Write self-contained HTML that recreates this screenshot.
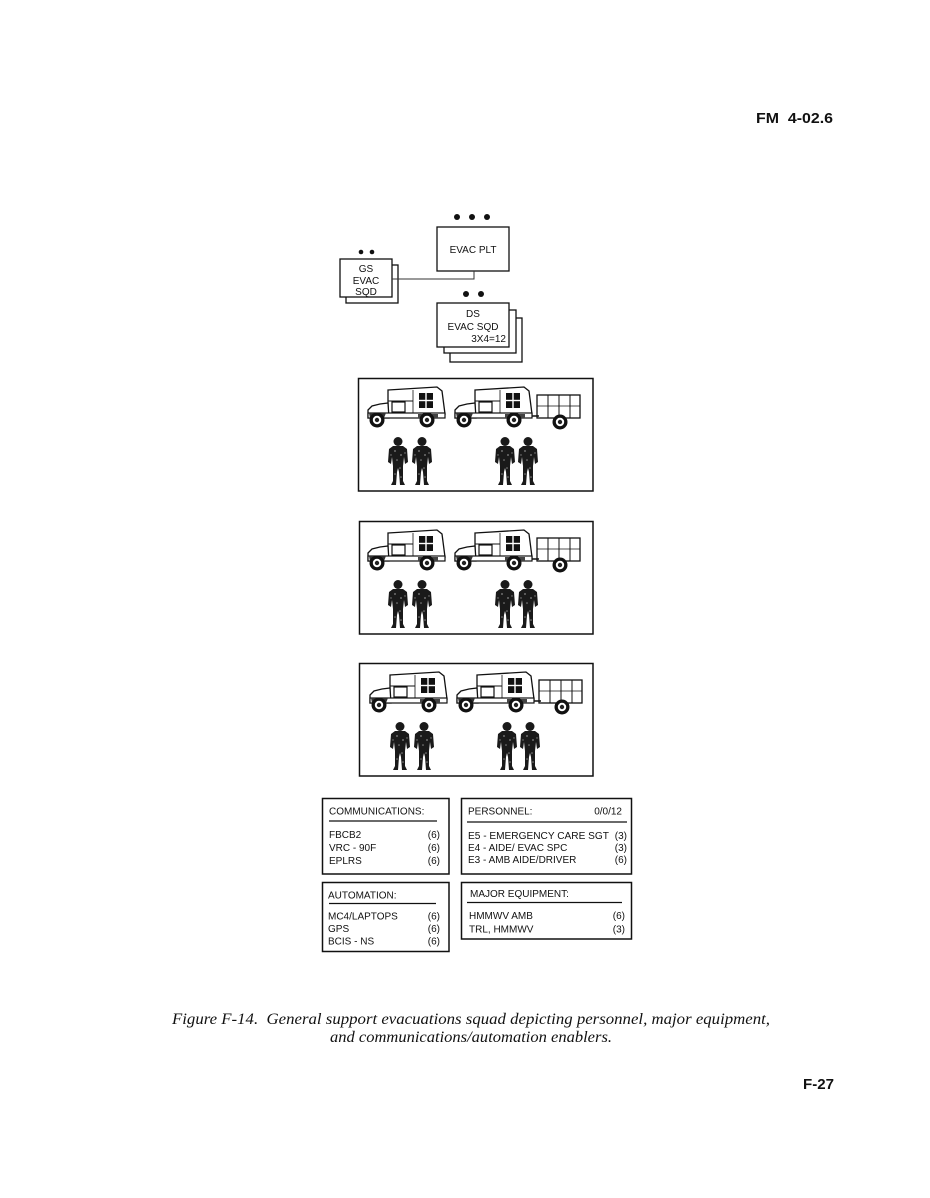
<!DOCTYPE html>
<html>
<head>
<meta charset="utf-8">
<style>
html,body{margin:0;padding:0;background:#fff;}
svg{display:block;}
text{font-family:"Liberation Sans",Arial,sans-serif;fill:#111;}
.cap{font-family:"Liberation Serif","Times New Roman",serif;font-style:italic;}
</style>
</head>
<body>
<svg width="930" height="1198" viewBox="0 0 930 1198" xmlns="http://www.w3.org/2000/svg">
<rect width="930" height="1198" fill="#fff"/>

<!-- Header -->
<text x="756" y="123" font-size="15" font-weight="bold" textLength="77" lengthAdjust="spacingAndGlyphs" xml:space="preserve">FM  4-02.6</text>

<!-- Org chart -->
<g fill="#111">
  <circle cx="457" cy="217" r="3"/>
  <circle cx="472" cy="217" r="3"/>
  <circle cx="487" cy="217" r="3"/>
  <circle cx="361" cy="252" r="2.3"/>
  <circle cx="372" cy="252" r="2.3"/>
  <circle cx="466" cy="294" r="3"/>
  <circle cx="481" cy="294" r="3"/>
</g>
<g fill="#fff" stroke="#111" stroke-width="1.3">
  <rect x="437" y="227" width="72" height="44"/>
  <rect x="346" y="265" width="52" height="38"/>
  <rect x="340" y="259" width="52" height="38"/>
  <rect x="450" y="318" width="72" height="44"/>
  <rect x="444" y="310" width="72" height="43"/>
  <rect x="437" y="303" width="72" height="44"/>
</g>
<polyline points="392,279 474,279 474,271" fill="none" stroke="#333" stroke-width="1"/>
<g font-size="10" text-anchor="middle">
  <text x="473" y="253">EVAC PLT</text>
  <text x="366" y="272">GS</text>
  <text x="366" y="284">EVAC</text>
  <text x="366" y="295">SQD</text>
  <text x="473" y="317">DS</text>
  <text x="473" y="330">EVAC SQD</text>
  <text x="506" y="342" text-anchor="end">3X4=12</text>
</g>

<!-- Definitions of panel content -->
<defs>
  <g id="amb">
    <path d="M20,5 L69,2 L74,6 L77,29 L20,29 Z" fill="#fff" stroke="#111" stroke-width="1.3"/>
    <line x1="20" y1="16" x2="45" y2="16" stroke="#111" stroke-width="1"/>
    <rect x="24" y="17" width="13" height="10" fill="#fff" stroke="#111" stroke-width="1.2"/>
    <line x1="45" y1="5" x2="45" y2="29" stroke="#111" stroke-width="0.8"/>
    <rect x="51" y="8" width="14" height="15" fill="#111"/>
    <line x1="58" y1="8" x2="58" y2="23" stroke="#fff" stroke-width="1.4"/>
    <line x1="51" y1="15.5" x2="65" y2="15.5" stroke="#fff" stroke-width="1.4"/>
    <path d="M0,25 L4,21 L12,19 L20,18 L21,33 L0,33 Z" fill="#fff" stroke="#111" stroke-width="1.3"/>
    <rect x="0" y="28" width="77" height="5" fill="#fff" stroke="#111" stroke-width="1.2"/>
    <path d="M1,28 L18,28 L16,33 L2,33 Z" fill="#333"/>
    <path d="M50,29 L70,29 L70,33 L50,33 Z" fill="#444"/>
    <circle cx="9" cy="35" r="7.5" fill="#111"/>
    <circle cx="9" cy="35" r="4.2" fill="#fff"/>
    <circle cx="9" cy="35" r="2.2" fill="#222"/>
    <circle cx="59" cy="35" r="7.5" fill="#111"/>
    <circle cx="59" cy="35" r="4.2" fill="#fff"/>
    <circle cx="59" cy="35" r="2.2" fill="#222"/>
  </g>
  <g id="trailer">
    <rect x="82" y="10" width="43" height="23" fill="#fff" stroke="#111" stroke-width="1.3"/>
    <line x1="93" y1="10" x2="93" y2="33" stroke="#111" stroke-width="1"/>
    <line x1="104" y1="10" x2="104" y2="33" stroke="#111" stroke-width="1"/>
    <line x1="115" y1="10" x2="115" y2="33" stroke="#111" stroke-width="1"/>
    <line x1="82" y1="21" x2="125" y2="21" stroke="#111" stroke-width="0.8"/>
    <line x1="77" y1="31" x2="84" y2="31" stroke="#111" stroke-width="1.5"/>
    <circle cx="105" cy="37" r="7.5" fill="#111"/>
    <circle cx="105" cy="37" r="4.2" fill="#fff"/>
    <circle cx="105" cy="37" r="2.2" fill="#222"/>
  </g>
  <g id="sol">
    <ellipse cx="10" cy="4.5" rx="4.5" ry="4.5" fill="#1a1a1a"/>
    <path d="M5,9 L15,9 L19,12 L20,25 L17,27 L16,20 L15,29 L15,44 L17,48 L12,48 L11,35 L10,31 L9,35 L8,48 L3,48 L5,44 L5,29 L4,20 L3,27 L0,25 L1,12 Z" fill="#1a1a1a"/>
    <g fill="#888">
      <circle cx="7" cy="14" r="0.9"/>
      <circle cx="13" cy="18" r="0.9"/>
      <circle cx="9" cy="23" r="0.8"/>
      <circle cx="12" cy="31" r="0.8"/>
      <circle cx="7" cy="37" r="0.8"/>
      <circle cx="13" cy="40" r="0.8"/>
      <circle cx="17" cy="16" r="0.7"/>
      <circle cx="3" cy="18" r="0.7"/>
    </g>
  </g>
  <g id="panel">
    <use href="#amb" transform="translate(368,385)"/>
    <use href="#amb" transform="translate(455,385)"/>
    <use href="#trailer" transform="translate(455,385)"/>
    <use href="#sol" transform="translate(388,437)"/>
    <use href="#sol" transform="translate(412,437)"/>
    <use href="#sol" transform="translate(495,437)"/>
    <use href="#sol" transform="translate(518,437)"/>
  </g>
</defs>

<!-- Panels -->
<g fill="none" stroke="#111" stroke-width="1.5">
  <rect x="358.5" y="378.5" width="234.5" height="112.5"/>
  <rect x="359.5" y="521.5" width="233.5" height="112.5"/>
  <rect x="359.5" y="663.5" width="233.5" height="112.5"/>
</g>
<use href="#panel"/>
<use href="#panel" transform="translate(0,143)"/>
<use href="#panel" transform="translate(2,285)"/>

<!-- Info boxes -->
<g fill="#fff" stroke="#111" stroke-width="1.5">
  <rect x="322.5" y="798.5" width="126.5" height="75.5"/>
  <rect x="461.5" y="798.5" width="170" height="75.5"/>
  <rect x="322.5" y="882.5" width="126.5" height="69"/>
  <rect x="461.5" y="882.5" width="170" height="56.5"/>
</g>
<g stroke="#111" stroke-width="1.3">
  <line x1="329" y1="821" x2="437" y2="821"/>
  <line x1="467" y1="822" x2="627" y2="822"/>
  <line x1="329" y1="903.5" x2="436" y2="903.5"/>
  <line x1="467" y1="902.5" x2="622" y2="902.5"/>
</g>
<g font-size="10">
  <text x="329" y="814.5">COMMUNICATIONS:</text>
  <text x="329" y="838">FBCB2</text>
  <text x="329" y="851">VRC - 90F</text>
  <text x="329" y="864">EPLRS</text>
  <text x="440" y="838" text-anchor="end">(6)</text>
  <text x="440" y="851" text-anchor="end">(6)</text>
  <text x="440" y="864" text-anchor="end">(6)</text>

  <text x="468" y="814.5">PERSONNEL:</text>
  <text x="622" y="814.5" text-anchor="end">0/0/12</text>
  <text x="468" y="839" textLength="141" lengthAdjust="spacingAndGlyphs">E5 - EMERGENCY CARE SGT</text>
  <text x="468" y="851">E4 - AIDE/ EVAC SPC</text>
  <text x="468" y="863">E3 - AMB AIDE/DRIVER</text>
  <text x="627" y="839" text-anchor="end">(3)</text>
  <text x="627" y="851" text-anchor="end">(3)</text>
  <text x="627" y="863" text-anchor="end">(6)</text>

  <text x="328" y="898.5">AUTOMATION:</text>
  <text x="328" y="919.5">MC4/LAPTOPS</text>
  <text x="328" y="932">GPS</text>
  <text x="328" y="944.5">BCIS - NS</text>
  <text x="440" y="919.5" text-anchor="end">(6)</text>
  <text x="440" y="932" text-anchor="end">(6)</text>
  <text x="440" y="944.5" text-anchor="end">(6)</text>

  <text x="470" y="897">MAJOR EQUIPMENT:</text>
  <text x="469" y="919">HMMWV AMB</text>
  <text x="469" y="932.5">TRL, HMMWV</text>
  <text x="625" y="919" text-anchor="end">(6)</text>
  <text x="625" y="932.5" text-anchor="end">(3)</text>
</g>

<!-- Caption -->
<text class="cap" x="172" y="1024" font-size="15.5" textLength="598" lengthAdjust="spacingAndGlyphs" xml:space="preserve">Figure F-14.  General support evacuations squad depicting personnel, major equipment,</text>
<text class="cap" x="330" y="1042" font-size="15.5" textLength="282" lengthAdjust="spacingAndGlyphs">and communications/automation enablers.</text>

<!-- Footer -->
<text x="803" y="1089" font-size="15" font-weight="bold" textLength="31" lengthAdjust="spacingAndGlyphs">F-27</text>
</svg>
</body>
</html>
